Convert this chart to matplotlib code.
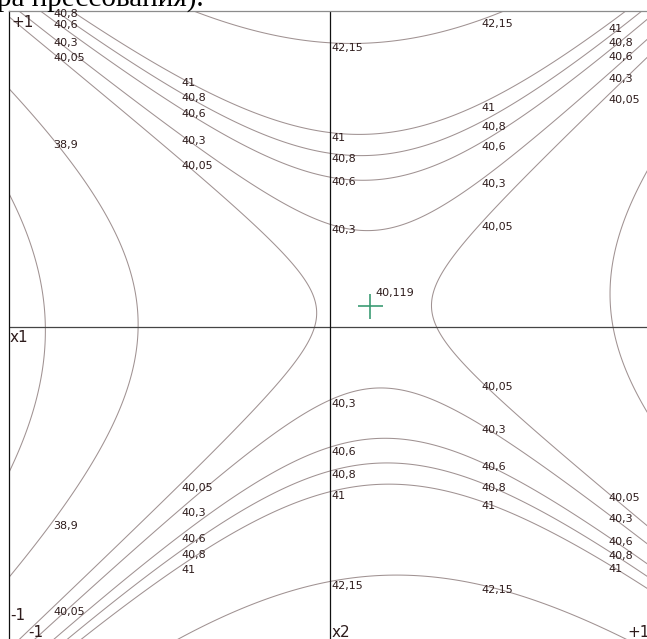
import numpy as np
import matplotlib.pyplot as plt
from matplotlib.patches import Rectangle

# second-order regression in coded factors: x1 - vertical, x2 - horizontal
b0 = 40.086
b1, b2 = -0.268, 0.639
b12 = -0.376
b11, b22 = 2.85, -2.25

levels = [37.75, 38.9, 40.05, 40.3, 40.6, 40.8, 41, 42.15]
level_text = ['37,75', '38,9', '40,05', '40,3', '40,6', '40,8', '41', '42,15']

# x2 positions where the isolines get their labels
label_cols = [-0.862, -0.462, 0.006, 0.473, 0.866]

# stationary point of the surface
sp_x2, sp_x1 = 0.125, 0.066
sp_text = '40,119'

line_col = '#a09292'
text_col = '#2e1c1c'


def response(x2, x1):
    return b0 + b1*x1 + b2*x2 + b12*x1*x2 + b11*x1**2 + b22*x2**2


W, H = 647, 639
fig = plt.figure(figsize=(W/100, H/100), dpi=100)
ax = fig.add_axes([9/W, (H - 643)/H, 642/W, 632/H])
ax.set_xlim(-1, 1)
ax.set_ylim(-1, 1)
ax.set_xticks([])
ax.set_yticks([])
ax.spines['left'].set_color('#111111')
ax.spines['top'].set_color('#8c8c8c')
for s in ['left', 'top']:
    ax.spines[s].set_linewidth(0.9)

grid = np.linspace(-1.05, 1.05, 500)
G2, G1 = np.meshgrid(grid, grid)
ax.contour(G2, G1, response(G2, G1), levels=levels,
           colors=line_col, linewidths=0.75)

ax.axhline(0, color='#454545', lw=0.9)
ax.axvline(0, color='#111111', lw=0.9)

# isoline labels: every crossing of a label column inside the field
for lev, txt in zip(levels, level_text):
    for c in label_cols:
        qa = b11
        qb = b1 + b12*c
        qc = b0 + b2*c + b22*c*c - lev
        disc = qb*qb - 4*qa*qc
        if disc < 0:
            continue
        for r in [(-qb + np.sqrt(disc))/(2*qa), (-qb - np.sqrt(disc))/(2*qa)]:
            if -0.91 <= r <= 1.01:
                ax.annotate(txt, (c, r), xytext=(0, 0), textcoords='offset pixels',
                            ha='left', va='top', fontsize=8, color=text_col,
                            annotation_clip=False)

# stationary point
ax.plot([sp_x2], [sp_x1], marker='+', ms=18, mew=1.2, color='#3c9c74')
ax.annotate(sp_text, (sp_x2, sp_x1), xytext=(5, 18), textcoords='offset pixels',
            ha='left', va='top', fontsize=8, color=text_col)

# factor names and bounds
ax_lab = dict(fontsize=11, color=text_col, va='top', ha='left', textcoords='offset pixels')
ax.annotate('+1', (0, 1), xycoords='axes fraction', xytext=(2, -4), **ax_lab)
ax.annotate('x1', (0, 0), xycoords=('axes fraction', 'data'), xytext=(1, -3), **ax_lab)
ax.annotate('-1', (0, 0), xycoords='axes fraction', xytext=(1, 35), **ax_lab)
ax.annotate('-1', (0, 0), xycoords='axes fraction', xytext=(19, 18), **ax_lab)
ax.annotate('x2', (0, 0), xycoords=('data', 'axes fraction'), xytext=(2, 18), **ax_lab)
ax.annotate('+1', (1, 0), xycoords='axes fraction', xytext=(-24, 18), **ax_lab)

# tail of the caption line above the chart
fig.patches.append(Rectangle((0, 1 - 8/H), 1, 8/H, transform=fig.transFigure,
                             facecolor='white', edgecolor='none', zorder=5))
fig.text(-0.005, 1 - 5.5/H, 'ра прессования).', family='Liberation Serif',
         fontsize=21, va='baseline', ha='left', color='black', zorder=6)

fig.savefig('out.png', dpi=100)
